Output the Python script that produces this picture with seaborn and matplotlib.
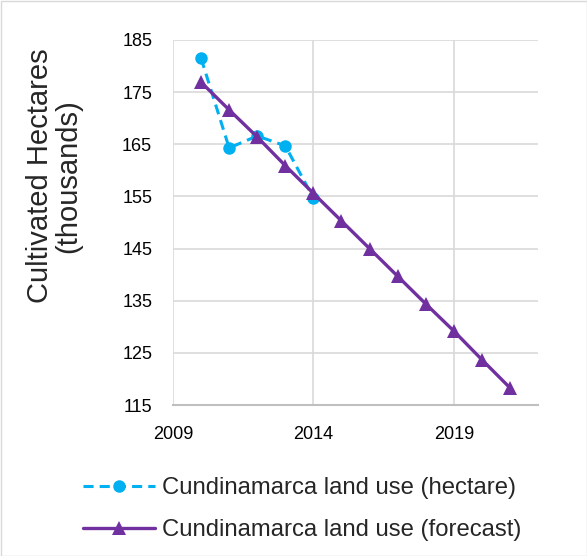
import matplotlib
matplotlib.use("Agg")
import matplotlib.pyplot as plt
import seaborn as sns
import pandas as pd

years_obs = [2010, 2011, 2012, 2013, 2014]
hectare = [181.5, 164.3, 166.6, 164.7, 154.7]
years_fc = [2010, 2011, 2012, 2013, 2014, 2015, 2016, 2017, 2018, 2019, 2020, 2021]
forecast = [176.9, 171.6, 166.4, 160.9, 155.6, 150.3, 145.0, 139.7, 134.4, 129.2, 123.7, 118.3]
x_ticks = [2009, 2014, 2019]
y_ticks = [115, 125, 135, 145, 155, 165, 175, 185]
lab_obs = "Cundinamarca land use (hectare)"
lab_fc = "Cundinamarca land use (forecast)"

sns.set_theme(style="white")
plt.rcParams['font.family'] = ['Liberation Sans', 'DejaVu Sans']

fig = plt.figure(figsize=(5.87, 5.56), dpi=100)
ax = fig.add_axes([173/587, 1-405/556, (538-173)/587, (405-40)/556])

df_obs = pd.DataFrame({"year": years_obs, "v": hectare})
df_fc = pd.DataFrame({"year": years_fc, "v": forecast})

sns.lineplot(data=df_obs, x="year", y="v", ax=ax, color="#00B0F0", linestyle=(0, (3.3, 2.0)),
             linewidth=2.2, marker="o", markersize=9, markeredgewidth=0, label=lab_obs)
sns.lineplot(data=df_fc, x="year", y="v", ax=ax, color="#7030A0", linewidth=2.4,
             marker="^", markersize=10, markeredgewidth=0, label=lab_fc)

ax.set_xlim(2009, 2022)
ax.set_ylim(115, 185)
ax.set_xticks(x_ticks)
ax.set_yticks(y_ticks)
ax.grid(True, color="#D9D9D9", linewidth=1.2)
ax.set_axisbelow(True)
for s in ["top", "right", "left"]:
    ax.spines[s].set_visible(False)
ax.spines["bottom"].set_color("#BFBFBF")
ax.spines["bottom"].set_linewidth(1.5)
ax.tick_params(axis="both", labelsize=13, colors="black", length=0, pad=15)
ax.set_xlabel("")
ax.set_ylabel("Cultivated Hectares\n(thousands)", fontsize=21, linespacing=1.0)
ax.yaxis.set_label_coords((54-173)/365, (405-176)/365)
ax.yaxis.label.set_va("center")

ax.legend(loc="upper left", bbox_to_anchor=(83/587, 1-477/556), bbox_transform=fig.transFigure,
          frameon=False, fontsize=17.2, handlelength=3.0, handletextpad=0.3, labelspacing=0.85,
          borderpad=0, borderaxespad=0)

fig.patches.append(plt.Rectangle((0.5/587, 0.5/556), 1-1/587, 1-1/556, transform=fig.transFigure,
                                 fill=False, edgecolor="#D9D9D9", linewidth=1))
fig.savefig("out.png", dpi=100, facecolor="white")
